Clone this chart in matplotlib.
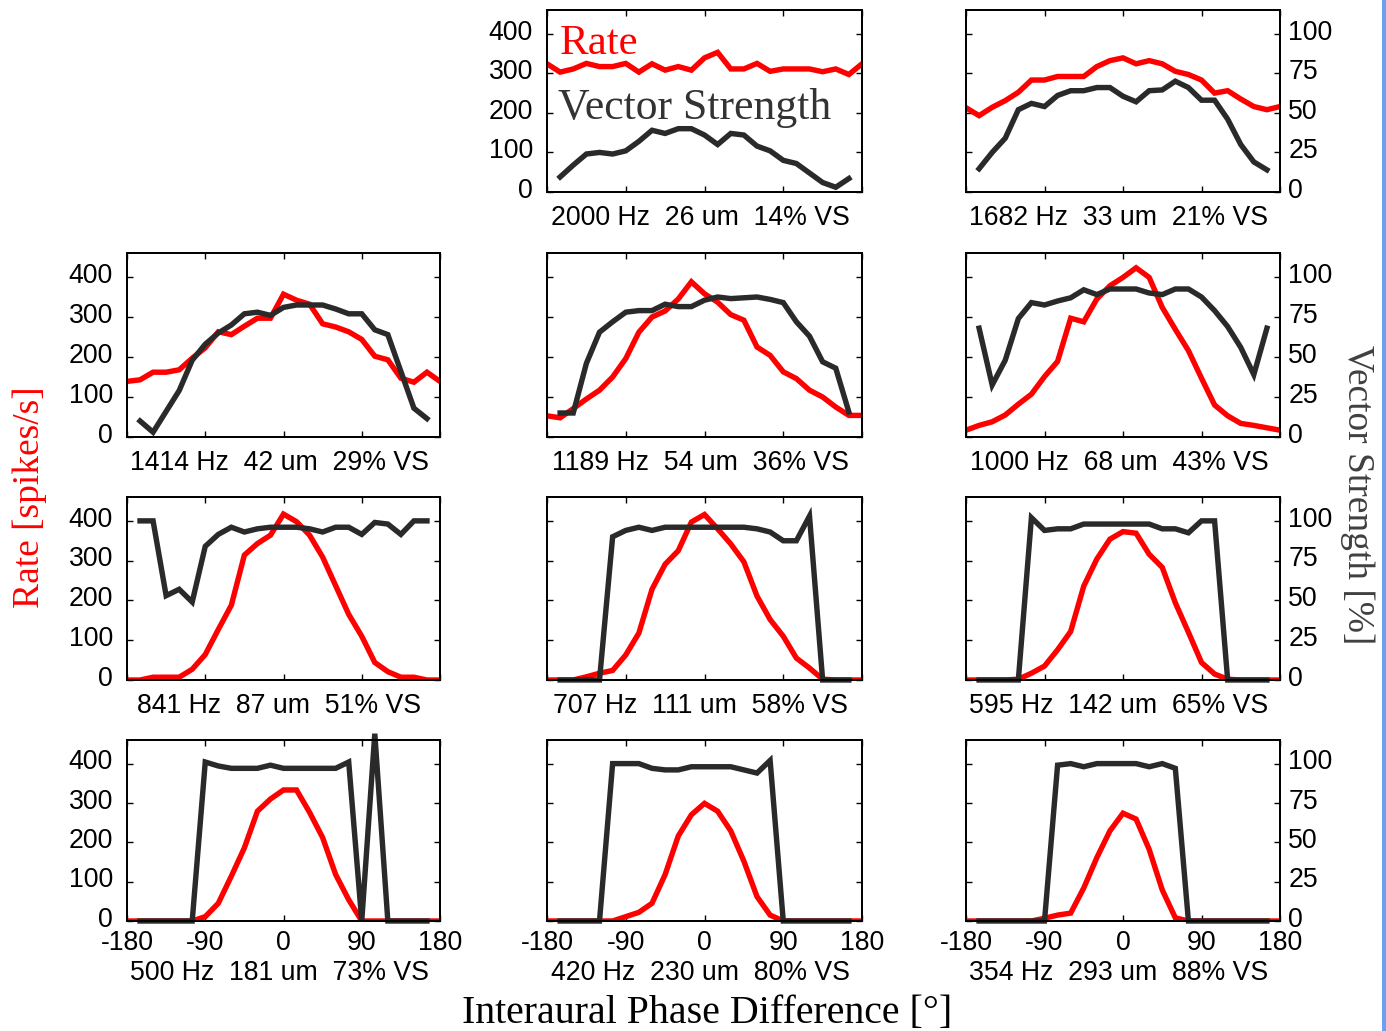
import matplotlib
matplotlib.use("Agg")
import matplotlib.pyplot as plt
from matplotlib.patches import Rectangle
from matplotlib.transforms import ScaledTranslation

plt.rcParams['font.family'] = 'Liberation Sans'
plt.rcParams['axes.unicode_minus'] = False

# interaural phase (deg) of the rate samples and of the vector strength samples
phase_deg = [-180, -165, -150, -135, -120, -105, -90, -75, -60, -45, -30, -15, 0,
             15, 30, 45, 60, 75, 90, 105, 120, 135, 150, 165, 180]
vs_phase_deg = [-165, -150, -135, -120, -105, -90, -75, -60, -45, -30, -15, 0,
                15, 30, 45, 60, 75, 90, 105, 120, 135, 150, 165]

freq_hz = [2000, 1682, 1414, 1189, 1000, 841, 707, 595, 500, 420, 354]
itd_um = [26, 33, 42, 54, 68, 87, 111, 142, 181, 230, 293]
mean_vs_pct = [14, 21, 29, 36, 43, 51, 58, 65, 73, 80, 88]

# discharge rate [spikes/s]
rate_2000 = [324, 303, 311, 325, 317, 317, 325, 303, 324, 308, 317, 308, 339, 353, 311, 311, 325, 305, 311, 311, 311, 304, 311, 297, 324]
rate_1682 = [213, 193, 214, 231, 252, 283, 283, 292, 292, 292, 317, 332, 339, 324, 332, 324, 305, 297, 283, 250, 256, 235, 216, 208, 216]
rate_1414 = [139, 143, 162, 162, 168, 197, 223, 263, 256, 277, 297, 297, 357, 342, 332, 283, 275, 263, 244, 202, 193, 147, 137, 162, 139]
rate_1189 = [53, 48, 71, 95, 117, 150, 196, 262, 300, 315, 345, 388, 358, 337, 306, 292, 225, 204, 163, 146, 117, 100, 75, 54, 54]
rate_1000 = [17, 29, 38, 55, 82, 107, 151, 189, 297, 288, 345, 378, 399, 423, 399, 324, 269, 216, 147, 80, 53, 34, 29, 23, 17]
rate_841 = [0, 0, 7, 7, 7, 27, 64, 127, 188, 314, 343, 364, 417, 398, 364, 309, 237, 165, 110, 44, 21, 7, 7, 0, 0]
rate_707 = [0, 0, 0, 8, 17, 24, 63, 118, 228, 291, 325, 397, 416, 380, 342, 297, 211, 152, 110, 55, 30, 2, 0, 0, 0]
rate_595 = [0, 0, 0, 0, 2, 17, 35, 76, 122, 236, 304, 354, 373, 369, 316, 283, 194, 120, 44, 15, 2, 0, 0, 0, 0]
rate_500 = [0, 0, 0, 0, 0, 0, 11, 45, 114, 186, 279, 310, 333, 333, 276, 212, 118, 54, 0, 0, 0, 0, 0, 0, 0]
rate_420 = [0, 0, 0, 0, 0, 0, 11, 22, 45, 118, 216, 270, 299, 279, 229, 152, 62, 15, 0, 0, 0, 0, 0, 0, 0]
rate_354 = [0, 0, 0, 0, 0, 0, 7, 15, 20, 84, 161, 229, 274, 259, 182, 79, 8, 0, 0, 0, 0, 0, 0, 0, 0]

# vector strength [%]
vs_2000 = [9.5, 17, 24, 25, 24, 26, 32, 39, 37, 40, 40, 36, 30, 37, 36, 29, 26, 20, 18, 12, 6, 3, 8.5]
vs_1682 = [14.7, 25, 34, 52, 56, 54, 61, 64, 64, 66, 66, 60.5, 57, 64, 64.5, 70, 66, 58, 58, 46, 30, 19, 14]
vs_1414 = [10, 3, 16, 29, 48, 58, 65, 70, 77, 78, 76, 81, 82.5, 82.5, 82.5, 80, 77, 77, 67, 64, 41, 18, 11.5]
vs_1189 = [15, 15, 46, 65.5, 72, 78, 79, 79, 83, 81.5, 81.5, 85.5, 87.5, 86.5, 87, 87.5, 86, 84, 72, 63, 47, 43, 15.6]
vs_1000 = [68, 32.5, 48, 74, 84, 82.5, 85, 87, 92, 89, 92.5, 92.5, 92.5, 90, 89, 92.5, 92.5, 87.5, 79, 69, 56, 39, 68]
vs_841 = [100, 100, 53, 57, 49, 84, 91.5, 96, 93, 95, 96, 96, 96, 95, 93, 96, 96, 91.5, 99, 98, 91.5, 100, 100]
vs_707 = [0, 0, 0, 0, 90, 94, 96, 94, 96, 96, 96, 96, 96, 96, 96, 95, 93, 87.5, 87.5, 103, 0, 0, 0]
vs_595 = [0, 0, 0, 0, 102, 94, 95, 95, 98, 98, 98, 98, 98, 98, 95, 95, 92.5, 100, 100, 0, 0, 0, 0]
vs_500 = [0, 0, 0, 0, 0, 101, 98.5, 97, 97, 97, 99, 97, 97, 97, 97, 97, 101, 0, 119, 0, 0, 0, 0]
vs_420 = [0, 0, 0, 0, 100, 100, 100, 97, 96, 96, 98, 98, 98, 98, 96, 94, 102, 0, 0, 0, 0, 0, 0]
vs_354 = [0, 0, 0, 0, 0, 0, 99, 100, 98, 100, 100, 100, 100, 98, 100, 97, 0, 0, 0, 0, 0, 0, 0]

rates = [rate_2000, rate_1682, rate_1414, rate_1189, rate_1000, rate_841,
         rate_707, rate_595, rate_500, rate_420, rate_354]
vss = [vs_2000, vs_1682, vs_1414, vs_1189, vs_1000, vs_841,
       vs_707, vs_595, vs_500, vs_420, vs_354]

# grid slots (row, col), top-left slot is empty
slots = [(0, 1), (0, 2), (1, 0), (1, 1), (1, 2), (2, 0), (2, 1), (2, 2), (3, 0), (3, 1), (3, 2)]

W, H = 1386, 1031
col_left = [127, 547, 966]
col_w = [313, 315, 314]
row_top = [10, 253, 497, 740]
row_bot = [192, 437, 680, 921]

red = '#ff0000'
dark = '#2a2a2a'
fs = 19.2
lw = 3.9

fig = plt.figure(figsize=(W / 100, H / 100), dpi=100)
up = ScaledTranslation(0, 3 / 72, fig.dpi_scale_trans)

for i, (r, c) in enumerate(slots):
    ax = fig.add_axes([col_left[c] / W, 1 - row_bot[r] / H, col_w[c] / W, (row_bot[r] - row_top[r]) / H])
    ax.plot(phase_deg, rates[i], color=red, lw=lw, solid_joinstyle='miter')
    ax.set_xlim(-180, 180)
    ax.set_ylim(0, 460)
    ax.set_xticks([-180, -90, 0, 90, 180])
    ax.set_yticks([0, 100, 200, 300, 400])
    show_left = (c == 0) or (r == 0 and c == 1)
    ax.tick_params(direction='in', top=True, right=True, length=4, width=1,
                   labelsize=fs, labelleft=show_left, labelbottom=(r == 3))
    ax.tick_params(axis='y', pad=10)
    ax.tick_params(axis='x', pad=6.5)
    for sp in ax.spines.values():
        sp.set_linewidth(1.3)

    ax2 = ax.twinx()
    ax2.plot(vs_phase_deg, vss[i], color=dark, lw=lw, solid_joinstyle='miter', clip_on=False)
    ax2.set_ylim(0, 115)
    ax2.set_yticks([0, 25, 50, 75, 100])
    ax2.tick_params(direction='in', length=4, width=1, labelsize=fs, pad=6,
                    labelright=(c == 2))
    for sp in ax2.spines.values():
        sp.set_linewidth(1.3)

    for t in ax.yaxis.get_major_ticks():
        t.label1.set_transform(t.label1.get_transform() + up)
    for t in ax2.yaxis.get_major_ticks():
        t.label2.set_transform(t.label2.get_transform() + up)

    caption = '%d Hz  %d um  %d%% VS' % (freq_hz[i], itd_um[i], mean_vs_pct[i])
    dy = -52 if r == 3 else -26
    ax.annotate(caption, xy=(0.487, 0), xycoords='axes fraction', xytext=(0, dy * 0.72),
                textcoords='offset points', ha='center', va='center', fontsize=fs)

    if i == 0:
        ax.text(-165, 374, 'Rate', color=red, family='Liberation Serif', fontsize=31, va='center')
        ax.text(-167, 212, 'Vector Strength', color='#333333', family='Liberation Serif',
                fontsize=31.5, va='center', zorder=5)

fig.text(30 / W, 1 - 497 / H, 'Rate [spikes/s]', rotation=90, color=red,
         family='Liberation Serif', fontsize=27, ha='center', va='center')
fig.text(1357 / W, 1 - 495 / H, 'Vector Strength [%]', rotation=270, color='#404040',
         family='Liberation Serif', fontsize=27, ha='center', va='center')
fig.text(707 / W, 1 - 1013 / H, 'Interaural Phase Difference [°]', color='black',
         family='Liberation Serif', fontsize=28.7, ha='center', va='center')

# blue frame edge on the right
fig.add_artist(Rectangle((1382 / W, 0), 4 / W, 1, transform=fig.transFigure,
                         color='#6f9ff0', lw=0))

fig.savefig('out.png', dpi=100)
